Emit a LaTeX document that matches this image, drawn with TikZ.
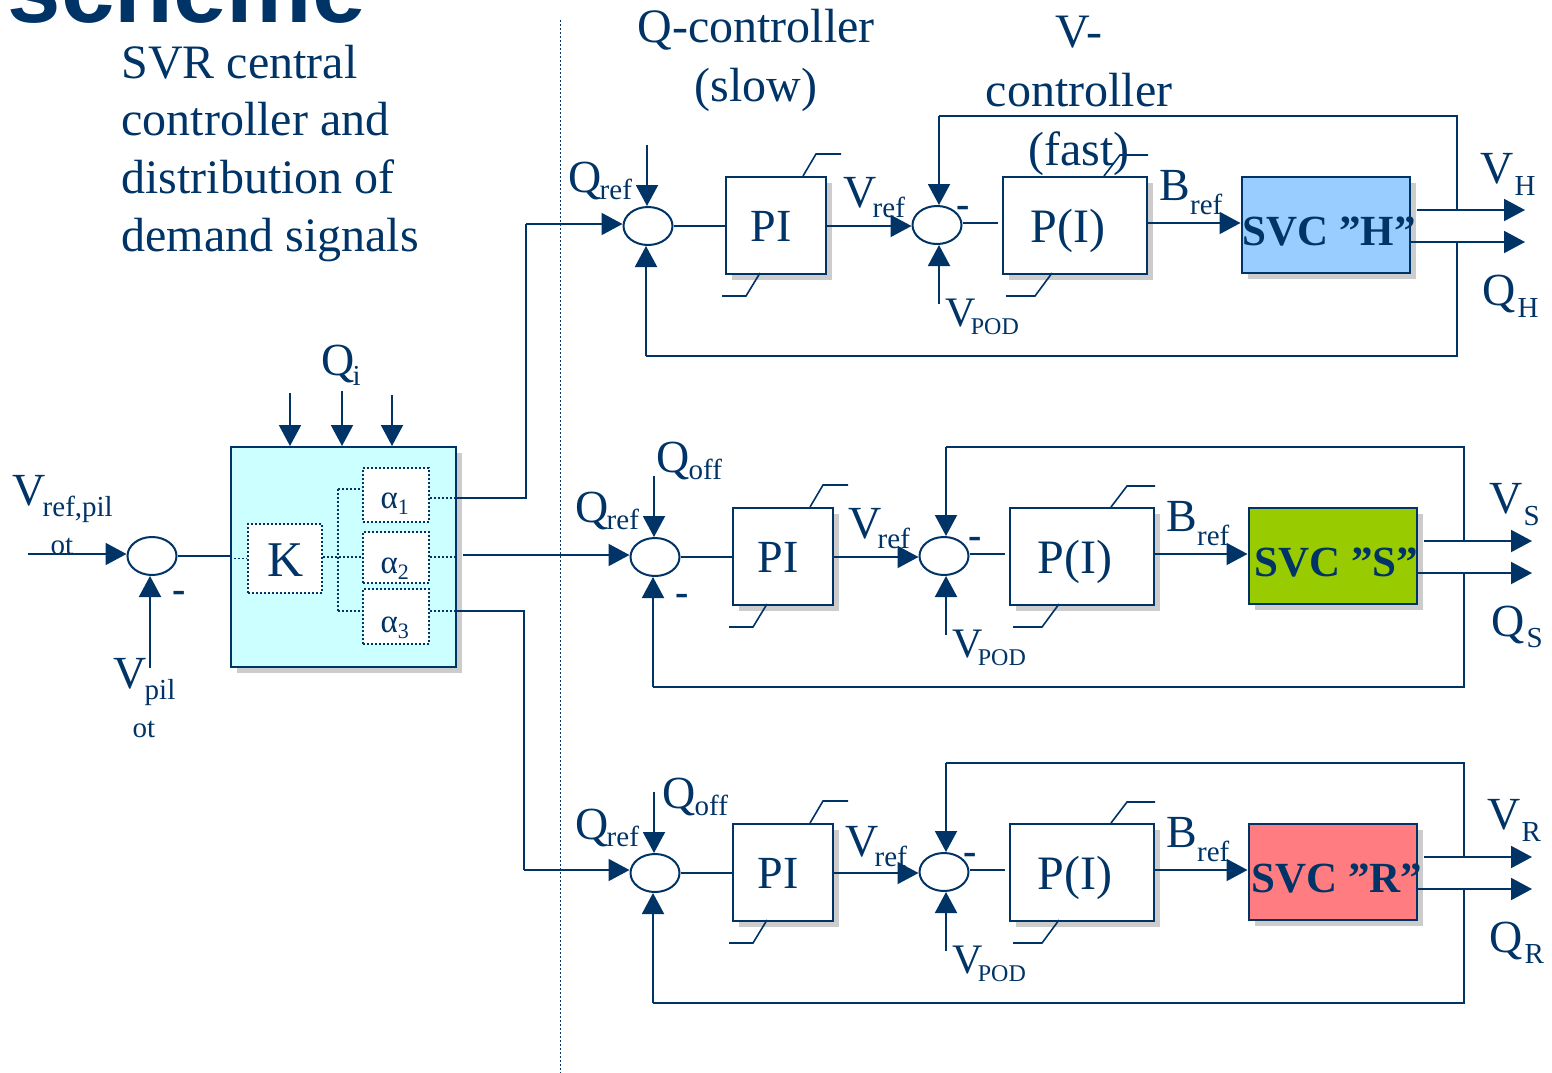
\documentclass[tikz,border=0pt]{standalone}
\usepackage{fontspec}
\setmainfont{Liberation Serif}
\newfontfamily\titlefont{Liberation Sans}
\usetikzlibrary{arrows.meta,shadows,shapes.geometric}
\definecolor{navy}{HTML}{003366}
\definecolor{shade}{HTML}{CCCCCC}
\definecolor{svcblue}{HTML}{99CCFF}
\definecolor{svcgreen}{HTML}{99CC00}
\definecolor{svcred}{HTML}{FF7C80}
\definecolor{paleblue}{HTML}{CCFFFF}
\newcommand{\lbl}[3]{{\fontsize{46}{46}\selectfont #1\raisebox{-#3pt}{\fontsize{29}{29}\selectfont #2}}}
\newcommand{\pod}{{\fontsize{42}{42}\selectfont V\raisebox{-8pt}{\kern-5pt\fontsize{24}{24}\selectfont POD}}}
\newcommand{\alp}[1]{{\fontsize{33}{33}\selectfont α\raisebox{-6pt}{\fontsize{22}{22}\selectfont #1}}}
\tikzset{
  x=1pt,y=-1pt,
  every path/.style={line width=2pt},
  lab/.style={anchor=base west,inner sep=0pt,text=navy,xshift=-1.5pt,yshift=1pt},
  labc/.style={anchor=base,inner sep=0pt,text=navy,align=center,yshift=1pt},
  sumj/.style={ellipse,draw=navy,fill=white,line width=2pt,minimum width=49pt,minimum height=38pt,inner sep=0pt},
  ctrlbox/.style={rectangle,draw=navy,fill=white,line width=2pt,inner sep=0pt,text=navy,
    general shadow={fill=shade,draw=none,shadow xshift=6pt,shadow yshift=-6pt}},
  dotbox/.style={rectangle,draw=navy,fill=white,line width=2pt,dotted,inner sep=0pt,text=navy},
  arr/.style={-{Triangle[length=21pt,width=22pt]},draw=navy,fill=navy},
  wire/.style={draw=navy},
  dotw/.style={draw=navy,dotted,line width=1.6pt},
  tick/.style={draw=navy,line width=1.6pt},
  minus/.style={anchor=center,inner sep=0pt,text=navy,font=\fontsize{40}{40}\bfseries\selectfont},
}
% #1 prefix, #2 dx, #3 dy, #4 svc colour, #5 svc text, #6 svc text x, #7 V arrow start x
\newcommand{\ctrlrow}[7]{%
\begin{scope}[shift={(#2,#3)}]
  \node[sumj] (#1s1) at (648,226) {};
  \node[ctrlbox,minimum width=100pt,minimum height=97pt] (#1pi) at (776,225) {};
  \node[labc] (#1pit) at (771,242) {\fontsize{46}{46}\selectfont PI};
  \node[sumj] (#1s2) at (937,225) {};
  \node[ctrlbox,minimum width=144pt,minimum height=97pt] (#1pc) at (1075,225) {};
  \node[labc] (#1pct) at (1068,243) {\fontsize{48}{48}\selectfont P(I)};
  \node[ctrlbox,fill=#4,minimum width=168pt,minimum height=96pt] (#1svc) at (1325.5,225) {};
  \node[lab] (#1svct) at (#6,246) {\fontsize{43}{43}\bfseries\selectfont SVC ”#5”};
  % free ends
  \coordinate (#1qtop) at (647,145);
  \coordinate (#1fb) at (646,356);
  \coordinate (#1ltop) at (939,116);
  \coordinate (#1vp) at (939,304);
  \coordinate (#1rtop) at (1457,116);
  \coordinate (#1rbot) at (1457,356);
  \coordinate (#1vjoin) at (1457,210);
  \coordinate (#1qjoin) at (1457,242);
  \coordinate (#1vstart) at (#7,210);
  \coordinate (#1vend) at (1525,210);
  \coordinate (#1qend) at (1525,242);
  \coordinate (#1gap) at (998,223);
  \coordinate (#1bb) at (1147,223);
  % connectors
  \draw[arr] (#1qtop) -- (#1qtop |- #1s1.north);
  \draw[arr] (#1fb) -- (#1fb |- #1s1.south);
  \draw[wire] (#1s1.east) -- (#1pi.west |- #1s1.east);
  \draw[arr] (#1pi.east |- #1s1.east) -- (#1s2.west |- #1s1.east);
  \draw[wire] (#1s2.east |- #1gap) -- (#1gap);
  \draw[arr] (#1ltop) -- (#1ltop |- #1s2.north);
  \draw[arr] (#1vp) -- (#1vp |- #1s2.south);
  \draw[arr] (#1pc.east |- #1bb) -- (#1svc.west |- #1bb);
  \draw[wire] (#1ltop) -- (#1rtop) -- (#1vjoin);
  \draw[wire] (#1qjoin) -- (#1rbot) -- (#1fb);
  \draw[arr] (#1vstart) -- (#1vend);
  \draw[arr] (#1svc.east |- #1qend) -- (#1qend);
  % small angled ticks
  \draw[tick] (803,176) -- (816,154) -- (841,154);
  \draw[tick] (760,273) -- (746,296) -- (722,296);
  \draw[tick] (1104,176) -- (1120,155) -- (1148,155);
  \draw[tick] (1052,273) -- (1035,296) -- (1006,296);
  % labels
  \node[lab] (#1pod) at (946,327) {\pod};
  \node[lab] (#1bref) at (1160,201) {\lbl{B}{ref}{14}};
\end{scope}}
\begin{document}
\begin{tikzpicture}
\useasboundingbox (0,0) rectangle (1552,1073);
% title and texts
\node[lab] (title) at (8.5,24) {\titlefont\fontsize{96}{96}\bfseries\selectfont scheme};
\node[lab] (t1) at (122,79) {\fontsize{48}{48}\selectfont SVR central};
\node[lab] (t2) at (122,136) {\fontsize{48}{48}\selectfont controller and};
\node[lab] (t3) at (122,194) {\fontsize{48}{48}\selectfont distribution of};
\node[lab] (t4) at (122,252) {\fontsize{48}{48}\selectfont demand signals};
\node[labc] (q1) at (756,44) {\fontsize{48}{48}\selectfont Q-controller};
\node[labc] (q2) at (756,102) {\fontsize{48}{48}\selectfont (slow)};
\coordinate (dtop) at (560,20);
\coordinate (dbot) at (560,1073);
\draw[draw=navy,dotted,line width=1pt] (dtop) -- (dbot);

\ctrlrow{h}{0}{0}{svcblue}{H}{1243}{1417}
\ctrlrow{s}{7}{331}{svcgreen}{S}{1248}{1417}
\ctrlrow{r}{7}{647}{svcred}{R}{1245}{1417}

\node[labc] (v1) at (1079,49) {\fontsize{48}{48}\selectfont V-};
\node[labc] (v2) at (1079,107) {\fontsize{48}{48}\selectfont controller};
\node[labc] (v3) at (1079,166) {\fontsize{48}{48}\selectfont (fast)};

% row labels
\node[lab] (hq) at (569,193) {\lbl{Q}{\kern-2pt ref}{7}};
\node[lab] (hv) at (844,208) {\lbl{V}{\kern-4pt ref}{10}};
\node[lab] (hvo) at (1481,184) {\lbl{V}{\kern1pt H}{12}};
\node[lab] (hqo) at (1483,306) {\lbl{Q}{\kern2pt H}{12}};
\node[minus] (hm) at (963,212) {-};

\node[lab] (sqo) at (657,473) {\lbl{Q}{\kern-1pt off}{7}};
\node[lab] (sq) at (576,523) {\lbl{Q}{\kern-2pt ref}{7}};
\node[lab] (sv) at (849,539) {\lbl{V}{\kern-4pt ref}{10}};
\node[lab] (svo) at (1490,514) {\lbl{V}{\kern1pt S}{12}};
\node[lab] (sqq) at (1492,637) {\lbl{Q}{\kern2pt S}{11}};
\node[minus] (sm1) at (682,600) {-};
\node[minus] (sm2) at (975,543) {-};

\node[lab] (rqo) at (663,809) {\lbl{Q}{\kern-1pt off}{7}};
\node[lab] (rq) at (576,840) {\lbl{Q}{\kern-2pt ref}{7}};
\node[lab] (rv) at (846,857) {\lbl{V}{\kern-4pt ref}{10}};
\node[lab] (rvo) at (1488,830) {\lbl{V}{\kern1pt R}{12}};
\node[lab] (rqq) at (1490,953) {\lbl{Q}{\kern2pt R}{11}};
\node[minus] (rm) at (970,859) {-};

% central controller
\node[ctrlbox,fill=paleblue,minimum width=225pt,minimum height=220pt] (cc) at (343.5,557) {};
\node[dotbox,minimum width=74pt,minimum height=69pt] (k) at (285,558.5) {};
\node[labc] (kt) at (286,577) {\fontsize{50}{50}\selectfont K};
\node[dotbox,minimum width=66pt,minimum height=54pt] (a1) at (396,495) {};
\node[dotbox,minimum width=66pt,minimum height=51pt] (a2) at (396,557.5) {};
\node[dotbox,minimum width=66pt,minimum height=55pt] (a3) at (396,616.5) {};
\node[lab] (a1t) at (381,509) {\alp{1}};
\node[lab] (a2t) at (381,574) {\alp{2}};
\node[lab] (a3t) at (381,633) {\alp{3}};
\coordinate (bus1) at (338,489);
\coordinate (bus2) at (338,557);
\coordinate (bus3) at (338,611);
\coordinate (out1) at (429,498);
\coordinate (out2) at (429,557);
\coordinate (out3) at (429,611);
\draw[dotw] (bus1) -- (bus3);
\draw[dotw] (bus1) -- (a1.west |- bus1);
\draw[dotw] (k.east |- bus2) -- (a2.west |- bus2);
\draw[dotw] (bus3) -- (a3.west |- bus3);
\draw[dotw] (cc.west |- k.west) -- (k.west);
\draw[dotw] (a1.east |- out1) -- (cc.east |- out1);
\draw[dotw] (a2.east |- out2) -- (cc.east |- out2);
\draw[dotw] (a3.east |- out3) -- (cc.east |- out3);

% input junction
\node[sumj] (s0) at (152,556) {};
\coordinate (vin) at (28,554);
\coordinate (vpil) at (150,668);
\draw[arr] (vin) -- (s0.west |- vin);
\draw[arr] (vpil) -- (vpil |- s0.south);
\draw[wire] (s0.east) -- (cc.west |- s0.east);
\node[minus] (m0) at (179,597) {-};
\node[lab] (vrp) at (13,506) {\lbl{V}{\kern-3pt ref,pil}{11}};
\node[lab] (ot1) at (51,555) {\fontsize{29}{29}\selectfont ot};
\node[lab] (vp) at (114,689) {\lbl{V}{\kern-2pt pil}{11}};
\node[lab] (ot2) at (133,738) {\fontsize{29}{29}\selectfont ot};

% Qi
\coordinate (qi1) at (290,393);
\coordinate (qi2) at (342,391);
\coordinate (qi3) at (392,395);
\draw[arr] (qi1) -- (qi1 |- cc.north);
\draw[arr] (qi2) -- (qi2 |- cc.north);
\draw[arr] (qi3) -- (qi3 |- cc.north);
\node[lab] (qi) at (322,376) {\lbl{Q}{\kern-2pt i}{10}};

% outputs of central controller
\coordinate (o1) at (526,498);
\coordinate (o1b) at (526,224);
\coordinate (o2) at (463,555);
\coordinate (o3) at (524,611);
\coordinate (o3b) at (524,870);
\draw[wire] (cc.east |- o1) -- (o1) -- (o1b);
\draw[arr] (o1b) -- (hs1.west |- o1b);
\draw[arr] (o2) -- (ss1.west |- o2);
\draw[wire] (cc.east |- o3) -- (o3) -- (o3b);
\draw[arr] (o3b) -- (rs1.west |- o3b);
\end{tikzpicture}
\end{document}
